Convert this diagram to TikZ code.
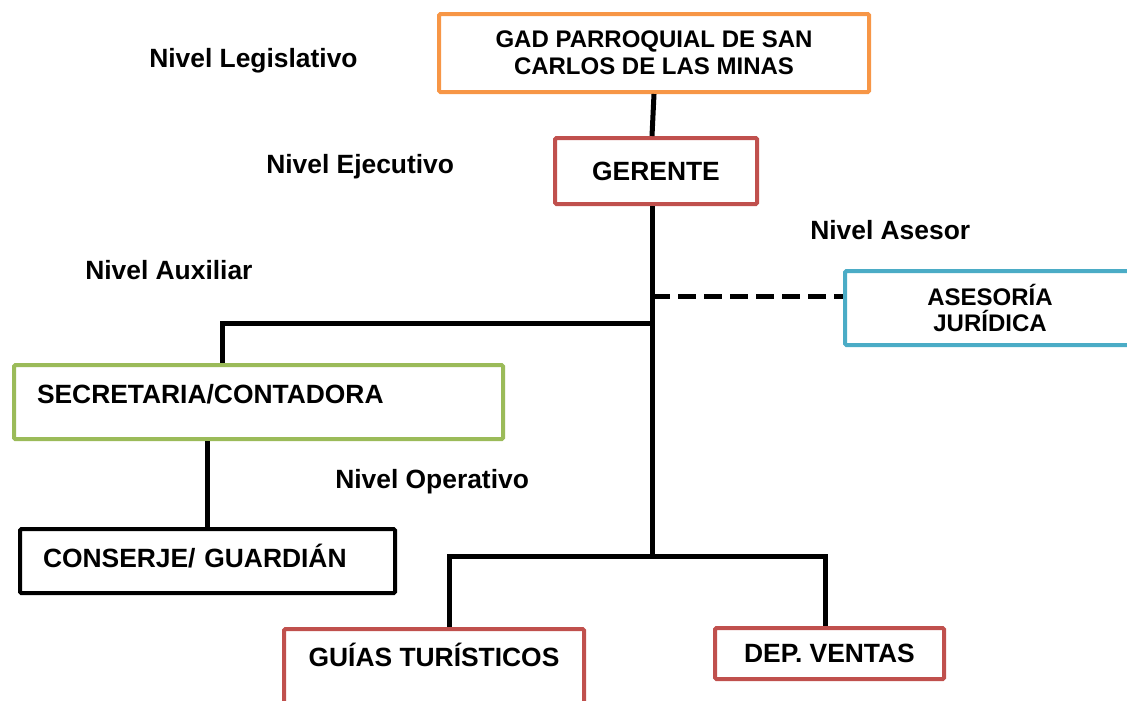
\documentclass[tikz,border=0pt]{standalone}
\usepackage{fontspec}
\setmainfont{Liberation Sans}
\usetikzlibrary{calc, positioning}
\definecolor{boxorange}{RGB}{247,150,70}
\definecolor{boxred}{RGB}{192,80,77}
\definecolor{boxblue}{RGB}{75,172,198}
\definecolor{boxgreen}{RGB}{155,187,89}

\begin{document}
\begin{tikzpicture}[x=0.75pt, y=-0.75pt,
  box/.style={draw, line width=3pt, rounded corners=1pt, anchor=north west,
    inner sep=4pt, font=\bfseries\fontsize{19.8}{22}\selectfont},
  smallbox/.style={box, align=center, font=\bfseries\fontsize{18}{20}\selectfont},
  leftbox/.style={box, align=left, inner xsep=17.25pt},
  lbl/.style={anchor=base west, inner sep=0pt, font=\bfseries\fontsize{19.8}{22}\selectfont},
  link/.style={line width=3.75pt},
  dashlink/.style={link, dash pattern=on 13.5pt off 6pt}]
  \clip (0,0) rectangle (1127,700);
  % Levels
  \node[lbl] (lleg) at (149,67) {Nivel Legislativo};
  \node[lbl] (lejec) at (266,173) {Nivel Ejecutivo};
  \node[lbl] (lases) at (810,239) {Nivel Asesor};
  \node[lbl] (laux) at (85,279) {Nivel Auxiliar};
  \node[lbl] (loper) at (335,488) {Nivel Operativo};
  % Units
  \node[smallbox, boxorange, text=black, minimum width=322.5pt, minimum height=58.5pt]
    (gad) at (437,12) {GAD PARROQUIAL DE SAN\\CARLOS DE LAS MINAS};
  \node[box, boxred, text=black, minimum width=151.5pt, minimum height=49.5pt]
    (ger) at (553,136) {GERENTE};
  \node[smallbox, boxblue, text=black, minimum width=217.5pt, minimum height=55.5pt]
    (ase) at (843,269) {ASESORÍA\\JURÍDICA};
  \node[leftbox, boxgreen, text=black, text width=332.25pt, minimum height=55.5pt,
    text height=14pt, text depth=12pt]
    (sec) at (12,363) {SECRETARIA/CONTADORA};
  \node[leftbox, text width=246.75pt, minimum height=48pt,
    text height=14pt, text depth=4.3pt]
    (cons) at (18,527) {CONSERJE/ GUARDIÁN};
  \node[box, boxred, text=black, minimum width=225pt, minimum height=60pt,
    text height=14pt, text depth=17.8pt]
    (guias) at (282,627) {GUÍAS TURÍSTICOS};
  \node[box, boxred, text=black, minimum width=171.75pt, minimum height=38.25pt]
    (dep) at (713,626) {DEP. VENTAS};
  % Junctions on the main line
  \coordinate (jase) at (652,296);
  \coordinate (jaux) at (652,323);
  \coordinate (jop) at (652,556);
  % Connectors
  \draw[link] (gad.south) -- (ger.north -| jop);
  \draw[link] (ger.south -| jop) -- (jop);
  \draw[dashlink] (jase) -- (jase -| ase.west);
  \draw[link] (jaux) -| ($(sec.north)+(-36.5,0)$);
  \draw[link] (sec.south -| cons.north) -- (cons.north);
  \draw[link] ($(guias.north)+(15,0)$) |- (jop) -| ($(dep.north)+(-4,0)$);
\end{tikzpicture}
\end{document}
